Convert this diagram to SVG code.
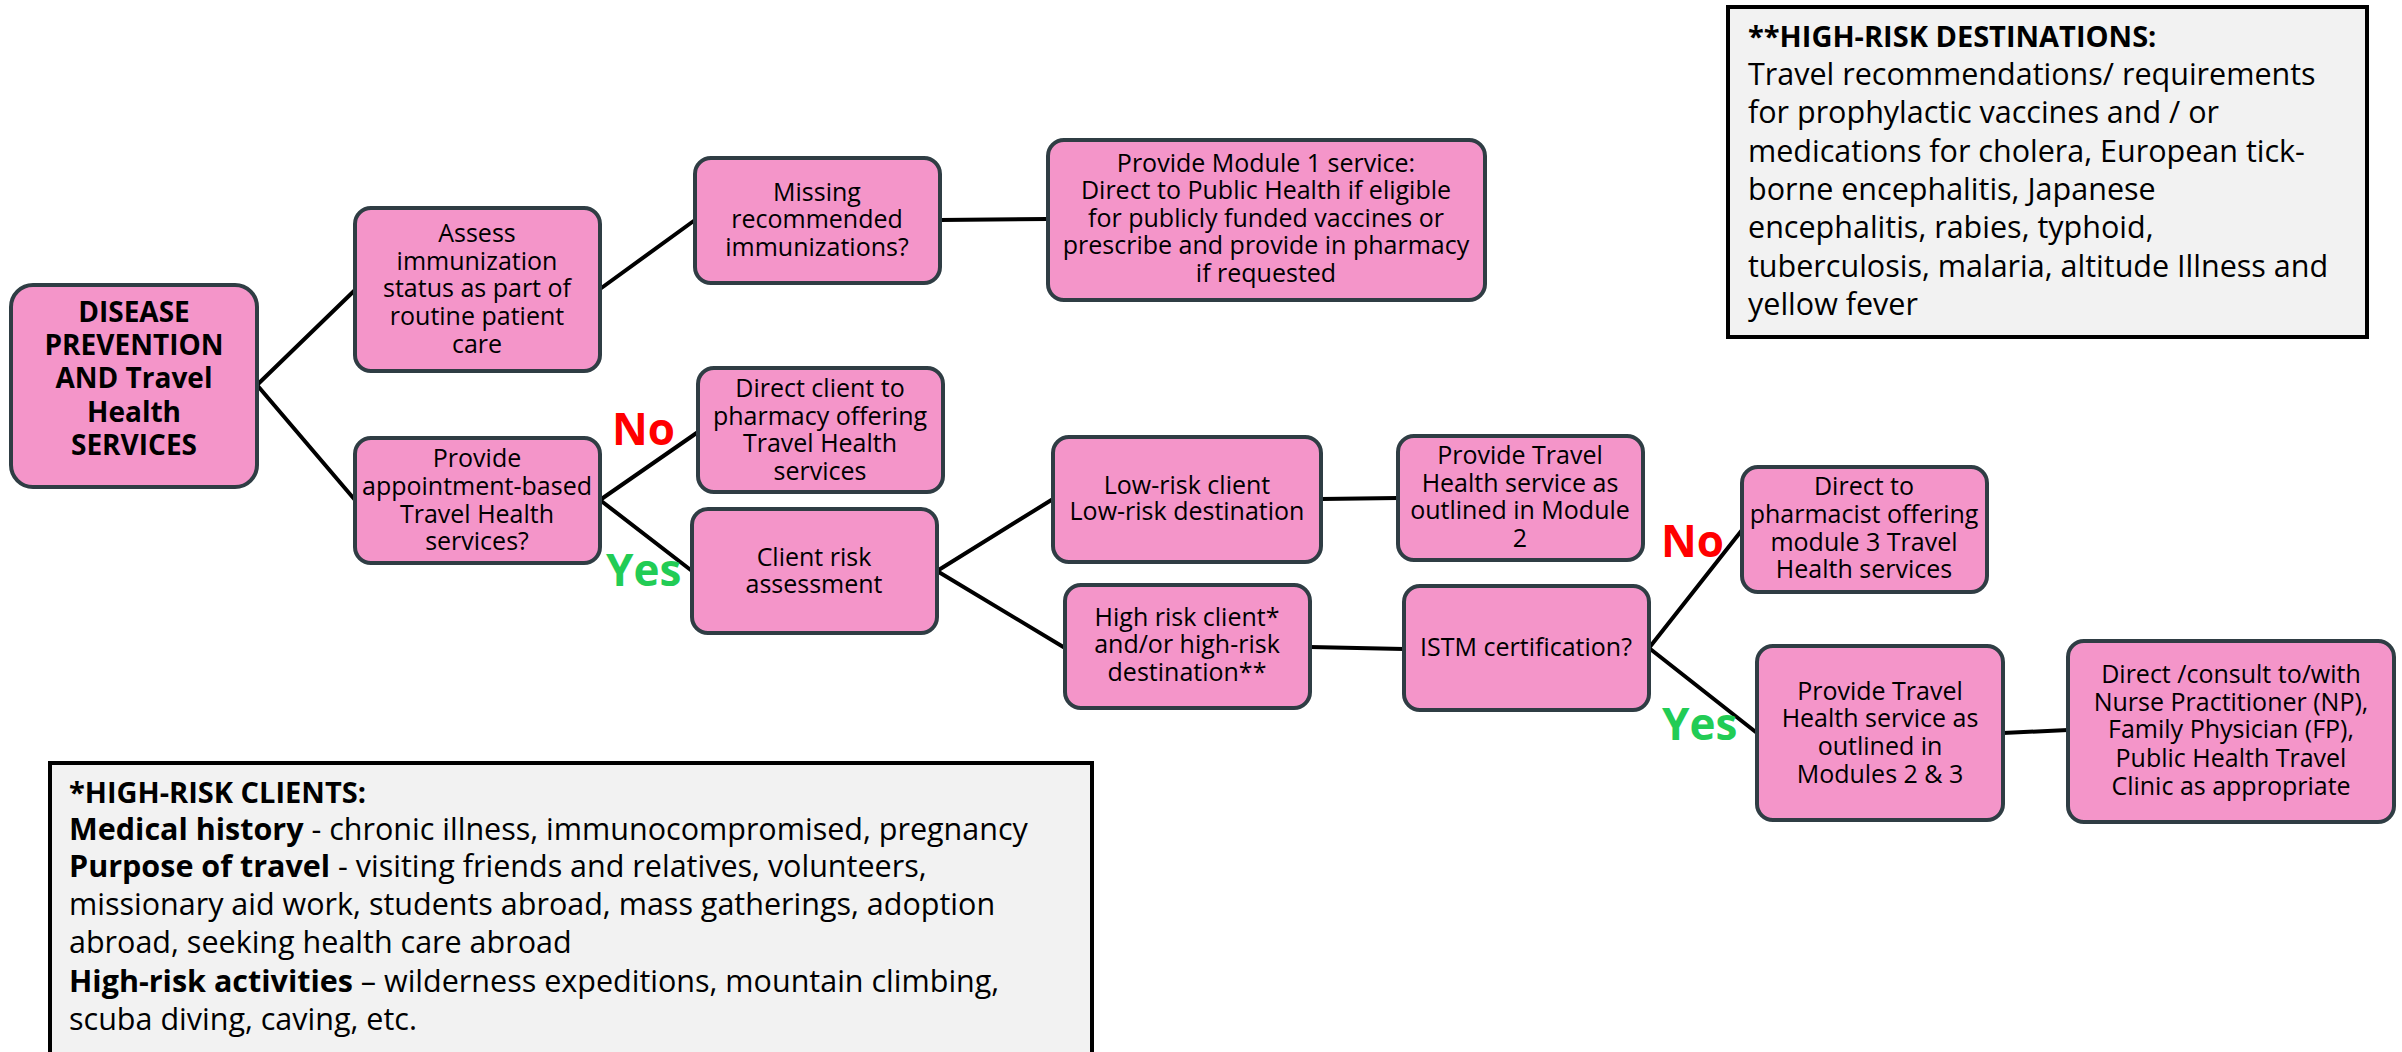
<svg xmlns="http://www.w3.org/2000/svg" width="2402" height="1052" viewBox="0 0 2402 1052">
<style>
.node rect{fill:#f495c9;stroke:#2f3d44;stroke-width:4}
.node text{font-family:"Open Sans","DejaVu Sans",sans-serif;font-size:25px;fill:#000;text-anchor:middle}
#root text{font-weight:bold;font-size:28px}
.note rect{fill:#f2f2f2;stroke:#000;stroke-width:4}
.note text{font-family:"Open Sans","DejaVu Sans",sans-serif;font-size:30.5px;fill:#000}
.note .t{font-weight:bold;font-size:29px}
.b{font-weight:bold}
#connectors line{stroke:#000;stroke-width:4;stroke-linecap:round}
.lbl{font-family:"Open Sans","DejaVu Sans",sans-serif;font-weight:bold;font-size:44px}
.no{fill:#ff0000}
.yes{fill:#22cc55}
</style>
<rect width="2402" height="1052" fill="#fff"/>
<g id="connectors">
<line x1="257" y1="385" x2="355" y2="290"/>
<line x1="257" y1="385" x2="355" y2="500"/>
<line x1="600" y1="289" x2="695" y2="220"/>
<line x1="940" y1="220" x2="1048" y2="219"/>
<line x1="600" y1="500" x2="698" y2="432"/>
<line x1="600" y1="500" x2="692" y2="571"/>
<line x1="937" y1="571" x2="1053" y2="499"/>
<line x1="937" y1="571" x2="1065" y2="648"/>
<line x1="1321" y1="499" x2="1398" y2="498"/>
<line x1="1310" y1="647" x2="1404" y2="649"/>
<line x1="1649" y1="648" x2="1742" y2="530"/>
<line x1="1649" y1="648" x2="1757" y2="733"/>
<line x1="2003" y1="733" x2="2068" y2="730"/>
</g>
<g id="labels">
<text class="lbl no" x="612" y="445">No</text>
<text class="lbl yes" x="606" y="586">Yes</text>
<text class="lbl no" x="1661" y="557">No</text>
<text class="lbl yes" x="1662" y="740">Yes</text>
</g>
<g id="root" class="node">
<rect x="11" y="285" width="246" height="202" rx="22"/>
<text><tspan x="134" y="322">DISEASE</tspan><tspan x="134" y="355">PREVENTION</tspan><tspan x="134" y="388">AND Travel</tspan><tspan x="134" y="422">Health</tspan><tspan x="134" y="455">SERVICES</tspan></text>
</g>
<g id="assess" class="node">
<rect x="355" y="208" width="245" height="163" rx="16"/>
<text><tspan x="477" y="242">Assess</tspan><tspan x="477" y="270">immunization</tspan><tspan x="477" y="297">status as part of</tspan><tspan x="477" y="325">routine patient</tspan><tspan x="477" y="353">care</tspan></text>
</g>
<g id="appointment" class="node">
<rect x="355" y="438" width="245" height="125" rx="16"/>
<text><tspan x="477" y="467">Provide</tspan><tspan x="477" y="495">appointment-based</tspan><tspan x="477" y="523">Travel Health</tspan><tspan x="477" y="550">services?</tspan></text>
</g>
<g id="missing" class="node">
<rect x="695" y="158" width="245" height="125" rx="16"/>
<text><tspan x="817" y="201">Missing</tspan><tspan x="817" y="228">recommended</tspan><tspan x="817" y="256">immunizations?</tspan></text>
</g>
<g id="module1" class="node">
<rect x="1048" y="140" width="437" height="160" rx="16"/>
<text><tspan x="1266" y="172">Provide Module 1 service:</tspan><tspan x="1266" y="199">Direct to Public Health if eligible</tspan><tspan x="1266" y="227">for publicly funded vaccines or</tspan><tspan x="1266" y="254">prescribe and provide in pharmacy</tspan><tspan x="1266" y="282">if requested</tspan></text>
</g>
<g id="directclient" class="node">
<rect x="698" y="368" width="245" height="124" rx="16"/>
<text><tspan x="820" y="397">Direct client to</tspan><tspan x="820" y="425">pharmacy offering</tspan><tspan x="820" y="452">Travel Health</tspan><tspan x="820" y="480">services</tspan></text>
</g>
<g id="clientrisk" class="node">
<rect x="692" y="509" width="245" height="124" rx="16"/>
<text><tspan x="814" y="566">Client risk</tspan><tspan x="814" y="593">assessment</tspan></text>
</g>
<g id="lowrisk" class="node">
<rect x="1053" y="437" width="268" height="125" rx="16"/>
<text><tspan x="1187" y="494">Low-risk client</tspan><tspan x="1187" y="520">Low-risk destination</tspan></text>
</g>
<g id="module2" class="node">
<rect x="1398" y="436" width="245" height="124" rx="16"/>
<text><tspan x="1520" y="464">Provide Travel</tspan><tspan x="1520" y="492">Health service as</tspan><tspan x="1520" y="519">outlined in Module</tspan><tspan x="1520" y="547">2</tspan></text>
</g>
<g id="highrisk" class="node">
<rect x="1065" y="585" width="245" height="123" rx="16"/>
<text><tspan x="1187" y="626">High risk client*</tspan><tspan x="1187" y="653">and/or high-risk</tspan><tspan x="1187" y="681">destination**</tspan></text>
</g>
<g id="istm" class="node">
<rect x="1404" y="586" width="245" height="124" rx="16"/>
<text><tspan x="1526" y="656">ISTM certification?</tspan></text>
</g>
<g id="directpharmacist" class="node">
<rect x="1742" y="467" width="245" height="125" rx="16"/>
<text><tspan x="1864" y="495">Direct to</tspan><tspan x="1864" y="523">pharmacist offering</tspan><tspan x="1864" y="551">module 3 Travel</tspan><tspan x="1864" y="578">Health services</tspan></text>
</g>
<g id="modules23" class="node">
<rect x="1757" y="646" width="246" height="174" rx="16"/>
<text><tspan x="1880" y="700">Provide Travel</tspan><tspan x="1880" y="727">Health service as</tspan><tspan x="1880" y="755">outlined in</tspan><tspan x="1880" y="783">Modules 2 &amp; 3</tspan></text>
</g>
<g id="consult" class="node">
<rect x="2068" y="641" width="326" height="181" rx="16"/>
<text><tspan x="2231" y="683">Direct /consult to/with</tspan><tspan x="2231" y="711">Nurse Practitioner (NP),</tspan><tspan x="2231" y="738">Family Physician (FP),</tspan><tspan x="2231" y="767">Public Health Travel</tspan><tspan x="2231" y="795">Clinic as appropriate</tspan></text>
</g>
<g id="destinations" class="note">
<rect x="1728" y="7" width="639" height="330"/>
<text class="t" x="1748" y="47">**HIGH-RISK DESTINATIONS:</text>
<text><tspan x="1748" y="85">Travel recommendations/ requirements</tspan><tspan x="1748" y="123">for prophylactic vaccines and / or</tspan><tspan x="1748" y="162">medications for cholera, European tick-</tspan><tspan x="1748" y="200">borne encephalitis, Japanese</tspan><tspan x="1748" y="238">encephalitis, rabies, typhoid,</tspan><tspan x="1748" y="277">tuberculosis, malaria, altitude Illness and</tspan><tspan x="1748" y="315">yellow fever</tspan></text>
</g>
<g id="clients" class="note">
<rect x="50" y="763" width="1042" height="300"/>
<text class="t" x="69" y="803">*HIGH-RISK CLIENTS:</text>
<text><tspan x="69" y="840"><tspan class="b">Medical history</tspan> - chronic illness, immunocompromised, pregnancy</tspan><tspan x="69" y="877"><tspan class="b">Purpose of travel</tspan> - visiting friends and relatives, volunteers,</tspan><tspan x="69" y="915">missionary aid work, students abroad, mass gatherings, adoption</tspan><tspan x="69" y="953">abroad, seeking health care abroad</tspan><tspan x="69" y="992"><tspan class="b">High-risk activities</tspan> – wilderness expeditions, mountain climbing,</tspan><tspan x="69" y="1030">scuba diving, caving, etc.</tspan></text>
</g>
</svg>
